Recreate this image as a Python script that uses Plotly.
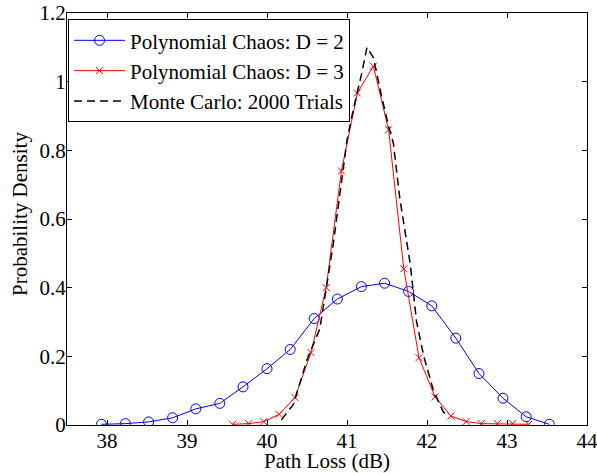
import plotly.graph_objects as go

# D = 2 polynomial chaos
pc2_x = [37.93, 38.23, 38.52, 38.82, 39.11, 39.41, 39.70, 40.00, 40.29, 40.59,
         40.88, 41.18, 41.47, 41.77, 42.06, 42.36, 42.65, 42.95, 43.24, 43.53]
pc2_y = [0.002, 0.004, 0.009, 0.021, 0.047, 0.063, 0.111, 0.164, 0.220, 0.310,
         0.367, 0.403, 0.413, 0.389, 0.347, 0.253, 0.150, 0.078, 0.024, 0.002]

# D = 3 polynomial chaos
pc3_x = [39.57, 39.77, 39.96, 40.15, 40.35, 40.55, 40.74, 40.93, 41.13, 41.33,
         41.52, 41.71, 41.90, 42.10, 42.30, 42.49, 42.68, 42.88, 43.07, 43.27]
pc3_y = [0.002, 0.004, 0.010, 0.031, 0.080, 0.211, 0.400, 0.740, 0.967, 1.045,
         0.860, 0.455, 0.196, 0.082, 0.026, 0.010, 0.004, 0.004, 0.004, 0.002]

# Monte Carlo, 2000 trials
mc_x = [40.18, 40.33, 40.50, 40.66, 40.83, 41.00, 41.08, 41.18, 41.25, 41.33,
        41.43, 41.52, 41.58, 41.66, 41.79, 41.87, 41.96, 42.08, 42.20, 42.25]
mc_y = [0.015, 0.06, 0.19, 0.28, 0.53, 0.83, 0.92, 1.02, 1.10, 1.07,
        0.96, 0.87, 0.82, 0.66, 0.47, 0.30, 0.20, 0.10, 0.04, 0.025]

x_ticks = [38, 39, 40, 41, 42, 43, 44]
y_ticks = [0, 0.2, 0.4, 0.6, 0.8, 1, 1.2]
y_tick_text = ["0", "0.2", "0.4", "0.6", "0.8", "1", "1.2"]

FONT = "Liberation Serif"
FS = 21

fig = go.Figure()
fig.add_trace(go.Scatter(
    x=pc2_x, y=pc2_y, mode="lines+markers", name="Polynomial Chaos: D = 2",
    line=dict(color="rgb(0,0,255)", width=1),
    marker=dict(symbol="circle-open", size=10, color="rgb(0,0,255)", line=dict(width=1, color="rgb(0,0,255)")),
))
fig.add_trace(go.Scatter(
    x=pc3_x, y=pc3_y, mode="lines+markers", name="Polynomial Chaos: D = 3",
    line=dict(color="rgb(255,0,0)", width=1),
    marker=dict(symbol="x-thin", size=7, color="rgb(255,0,0)", line=dict(width=1, color="rgb(255,0,0)")),
))
fig.add_trace(go.Scatter(
    x=mc_x, y=mc_y, mode="lines", name="Monte Carlo: 2000 Trials",
    line=dict(color="black", width=1.5, dash="8px,5px"),
))

axis_common = dict(
    showline=True, linecolor="black", linewidth=1, mirror="ticks",
    ticks="inside", ticklen=5, tickcolor="black", tickwidth=1,
    showgrid=False, zeroline=False, automargin=False,
    tickfont=dict(family=FONT, size=FS, color="black"),
)

fig.update_layout(
    width=597, height=473,
    margin=dict(l=67, r=10, t=13, b=48, autoexpand=False),
    paper_bgcolor="white", plot_bgcolor="white",
    font=dict(family=FONT, size=FS, color="black"),
    xaxis=dict(range=[37.5, 44], tickvals=x_ticks, ticklabeloverflow="allow",
               ticklabelstandoff=-3, **axis_common),
    yaxis=dict(range=[0, 1.2], tickvals=y_ticks, ticktext=y_tick_text,
               ticklabelstandoff=-4, **axis_common),
    legend=dict(x=0.002, y=0.985, xanchor="left", yanchor="top",
                bordercolor="black", borderwidth=1, bgcolor="white",
                font=dict(family=FONT, size=FS, color="black"),
                itemwidth=51, tracegroupgap=0),
    showlegend=True,
    annotations=[
        dict(text="Path Loss (dB)", xref="paper", yref="paper", x=0.5, y=0,
             xanchor="center", yanchor="middle", yshift=-36, showarrow=False,
             font=dict(family=FONT, size=FS, color="black")),
        dict(text="Probability Density", xref="paper", yref="paper", x=-0.0904, y=0.5,
             xanchor="center", yanchor="middle", yshift=5, textangle=-90, showarrow=False,
             font=dict(family=FONT, size=FS, color="black")),
    ],
)

fig.write_html("out.html", config={"displayModeBar": False},
               post_script="document.body.style.margin='0';document.body.style.padding='0';")
